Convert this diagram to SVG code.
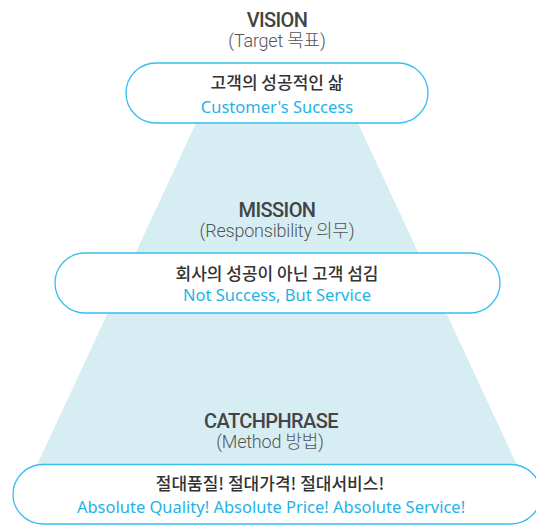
<svg xmlns="http://www.w3.org/2000/svg" width="536" height="525" viewBox="0 0 536 525">
<style>
.title{font-family:Roboto,"Noto Sans CJK KR",sans-serif;font-weight:500;font-size:20px;fill:#444;text-anchor:middle;letter-spacing:-0.6px}
.sub{font-family:Roboto,"Noto Sans CJK KR",sans-serif;font-weight:300;font-size:18px;fill:#555;text-anchor:middle;letter-spacing:-0.2px}
.ko{font-family:"Noto Sans CJK KR",sans-serif;font-weight:500;font-size:17px;fill:#333;text-anchor:middle}
.en{font-family:"Noto Sans","Open Sans",sans-serif;font-size:16.5px;fill:#1fb3e6;text-anchor:middle}
.pill{fill:#fff;stroke:#35bfee;stroke-width:1.3}
</style>
<rect width="536" height="525" fill="#fff"/>
<polygon id="pyramid" points="196,123 358,123 517,465 37,465" fill="#d6eef3"/>
<g id="vision">
<text class="title" x="277" y="26.5">VISION</text>
<text class="sub" x="277" y="47">(Target 목표)</text>
<rect class="pill" x="126" y="63" width="302" height="60" rx="30"/>
<text class="ko" x="277" y="89">고객의 성공적인 삶</text>
<text class="en" x="277" y="113">Customer's Success</text>
</g>
<g id="mission">
<text class="title" x="277" y="216.5">MISSION</text>
<text class="sub" x="277" y="237">(Responsibility 의무)</text>
<rect class="pill" x="55" y="253" width="445" height="60" rx="30"/>
<text class="ko" x="277" y="280">회사의 성공이 아닌 고객 섬김</text>
<text class="en" x="277" y="301">Not Success, But Service</text>
</g>
<g id="catchphrase">
<text class="title" x="271" y="427.5">CATCHPHRASE</text>
<text class="sub" x="270" y="447.5">(Method 방법)</text>
<rect class="pill" x="13" y="464.5" width="528" height="59.5" rx="30"/>
<text class="ko" x="270" y="490">절대품질! 절대가격! 절대서비스!</text>
<text class="en" x="271" y="513">Absolute Quality! Absolute Price! Absolute Service!</text>
</g>
<g id="connectors"/>
</svg>
